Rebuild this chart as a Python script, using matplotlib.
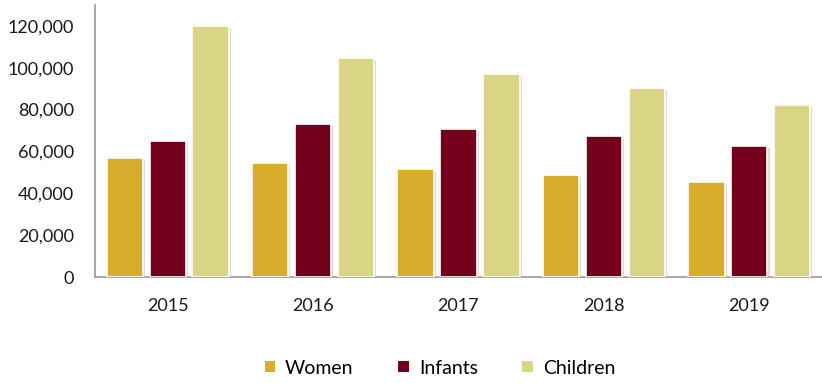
import numpy as np
import matplotlib.pyplot as plt
import matplotlib.patheffects as pe
from matplotlib.ticker import FuncFormatter

years = ['2015', '2016', '2017', '2018', '2019']
women = [57000, 54500, 51500, 48800, 45200]
infants = [65000, 73100, 70700, 67400, 62800]
children = [119800, 104700, 97000, 90400, 82100]

series = [('Women', women, '#D9AD2C'),
          ('Infants', infants, '#72001A'),
          ('Children', children, '#D9D585')]

plt.rcParams['font.family'] = ['Lato', 'DejaVu Sans']

fig = plt.figure(figsize=(8.22, 3.83), dpi=100)
ax = fig.add_axes([95 / 822, 1 - 277 / 383, 727 / 822, 272 / 383])

x = np.arange(len(years))
width = 0.25
step = 0.295
shadow = [pe.SimplePatchShadow(offset=(1.5, -1.5), shadow_rgbFace='#b8b8b8', alpha=0.5), pe.Normal()]
for i, (name, vals, col) in enumerate(series):
    bars = ax.bar(x + (i - 1) * step, vals, width, color=col, edgecolor='white',
                  linewidth=1.2, label=name, zorder=3)
    for b in bars:
        b.set_path_effects(shadow)

ax.set_xlim(-0.5, len(years) - 0.5)
ax.set_ylim(0, 130000)
ax.set_yticks(np.arange(0, 120001, 20000))
ax.yaxis.set_major_formatter(FuncFormatter(lambda v, p: f'{int(v):,}'))
ax.set_xticks(x)
ax.set_xticklabels(years)
ax.tick_params(axis='both', length=0, labelsize=13, colors='#1a1a1a')
ax.tick_params(axis='x', pad=15)
ax.tick_params(axis='y', pad=15)

for s in ['top', 'right']:
    ax.spines[s].set_visible(False)
for s in ['left', 'bottom']:
    ax.spines[s].set_color('#999999')
    ax.spines[s].set_linewidth(1.2)

leg = fig.legend(loc='center', bbox_to_anchor=(440 / 822, 1 - 368 / 383), ncol=3,
                 frameon=False, fontsize=14, handlelength=0.55, handleheight=0.55,
                 handletextpad=0.5, columnspacing=2.3)
for h in leg.legend_handles:
    h.set_path_effects([])
    h.set_edgecolor('none')

fig.savefig('out.png', dpi=100)
